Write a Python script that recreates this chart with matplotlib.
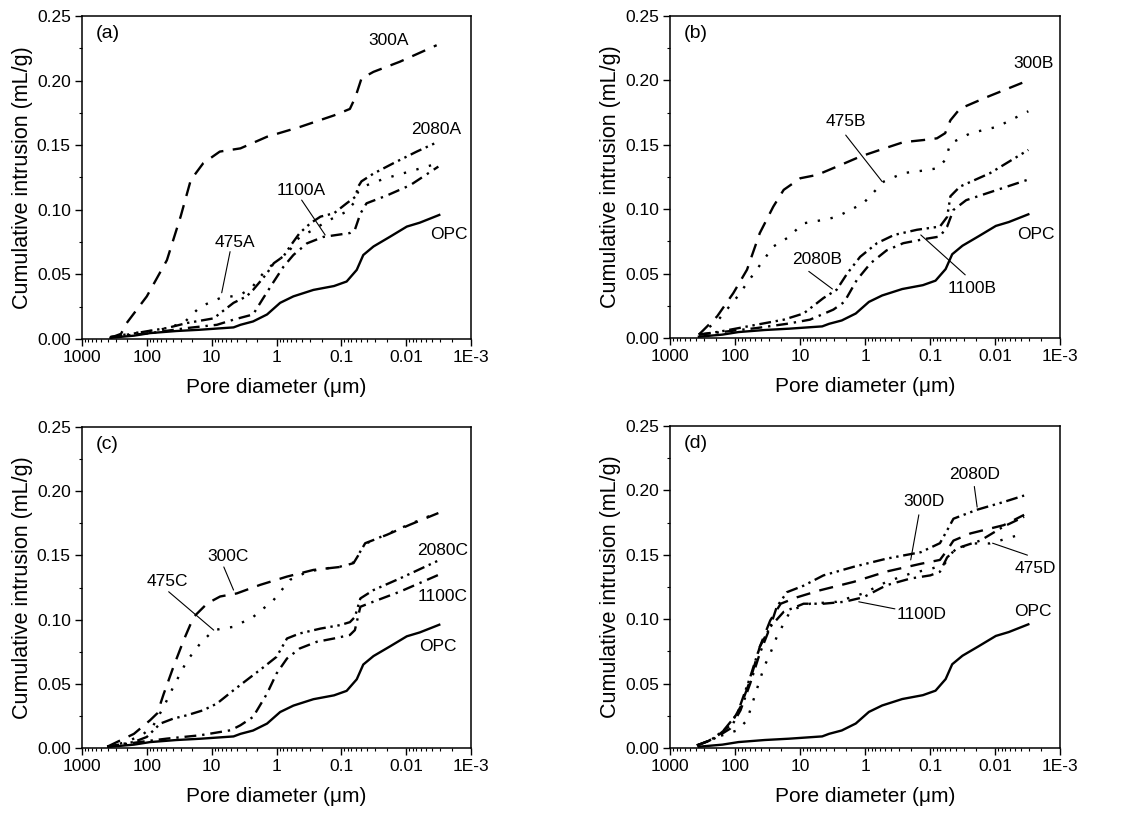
import numpy as np
import matplotlib
matplotlib.use("Agg")
import matplotlib.pyplot as plt
from matplotlib.ticker import FixedLocator, LogLocator, NullFormatter, MultipleLocator, FormatStrFormatter

plt.rcParams['font.family'] = ['Liberation Sans', 'DejaVu Sans']

# pore diameter (um) / cumulative intrusion (mL/g)
OPC_d = [363, 158, 89, 35, 15, 4.6, 3.6, 2.3, 1.4, 0.88, 0.55, 0.27, 0.13, 0.083, 0.058, 0.046, 0.032, 0.018, 0.0098, 0.0062, 0.0031]
OPC_v = [0.001, 0.0026, 0.0046, 0.0062, 0.0072, 0.009, 0.011, 0.0136, 0.019, 0.028, 0.033, 0.038, 0.041, 0.0445, 0.0535, 0.065, 0.0716, 0.079, 0.087, 0.090, 0.096]

# panel (a)
A300_d = [363, 250, 204, 100, 49, 30, 21, 13.5, 7.5, 3.6, 1.4, 0.44, 0.13, 0.074, 0.061, 0.049, 0.032, 0.0126, 0.0034]
A300_v = [0.001, 0.004, 0.0124, 0.033, 0.061, 0.095, 0.123, 0.136, 0.145, 0.1475, 0.1565, 0.164, 0.173, 0.178, 0.187, 0.2016, 0.2067, 0.2145, 0.2273]
A475_d = [363, 158, 62, 27, 15, 7.4, 3.6, 2.3, 1.6, 1.1, 0.69, 0.44, 0.27, 0.17, 0.12, 0.083, 0.065, 0.055, 0.046, 0.022, 0.0098, 0.0032]
A475_v = [0.0015, 0.0046, 0.0072, 0.0124, 0.025, 0.0317, 0.034, 0.041, 0.051, 0.0587, 0.066, 0.079, 0.0845, 0.091, 0.0947, 0.0986, 0.105, 0.114, 0.118, 0.124, 0.129, 0.136]
A1100_d = [363, 89, 24, 8.3, 4.6, 2.3, 1.6, 1.1, 0.78, 0.55, 0.34, 0.19, 0.074, 0.062, 0.051, 0.041, 0.020, 0.0087, 0.0032]
A1100_v = [0.0015, 0.0046, 0.0085, 0.011, 0.015, 0.019, 0.0317, 0.0445, 0.056, 0.065, 0.074, 0.079, 0.082, 0.0845, 0.097, 0.105, 0.111, 0.119, 0.1334]
A2080_d = [363, 204, 100, 49, 24, 9.3, 7.4, 4.6, 2.9, 2.3, 1.7, 1.4, 1.1, 0.78, 0.62, 0.44, 0.30, 0.21, 0.13, 0.083, 0.061, 0.055, 0.049, 0.032, 0.0158, 0.0069, 0.0032]
A2080_v = [0.0015, 0.0033, 0.006, 0.0085, 0.0124, 0.016, 0.020, 0.028, 0.033, 0.038, 0.0458, 0.051, 0.0587, 0.064, 0.0716, 0.082, 0.0896, 0.0947, 0.0973, 0.105, 0.110, 0.118, 0.122, 0.128, 0.136, 0.145, 0.1527]

# panel (b)
B300_d = [363, 190, 107, 66, 42, 26, 18, 10, 5.5, 2.75, 1.2, 0.52, 0.26, 0.126, 0.079, 0.059, 0.049, 0.035, 0.0135, 0.0031]
B300_v = [0.0026, 0.0168, 0.0349, 0.053, 0.0814, 0.102, 0.115, 0.124, 0.1266, 0.133, 0.1408, 0.147, 0.152, 0.1537, 0.155, 0.159, 0.169, 0.178, 0.187, 0.200]
B475_d = [363, 190, 93, 47, 26, 16, 8.9, 4.4, 2.75, 1.07, 0.52, 0.26, 0.126, 0.079, 0.059, 0.049, 0.024, 0.0093, 0.0031]
B475_v = [0.0026, 0.0129, 0.032, 0.053, 0.071, 0.0775, 0.089, 0.0917, 0.094, 0.1046, 0.1214, 0.128, 0.130, 0.1317, 0.138, 0.151, 0.159, 0.164, 0.176]
B1100_d = [363, 170, 47, 16, 7.1, 3.1, 2.1, 1.35, 0.83, 0.47, 0.26, 0.126, 0.071, 0.055, 0.044, 0.028, 0.0093, 0.0031]
B1100_v = [0.0026, 0.0045, 0.0077, 0.011, 0.0142, 0.022, 0.028, 0.045, 0.058, 0.068, 0.0736, 0.0767, 0.0788, 0.0865, 0.0994, 0.107, 0.115, 0.123]
B2080_d = [363, 170, 47, 18, 8.9, 4.4, 2.75, 1.9, 1.2, 0.66, 0.36, 0.16, 0.071, 0.055, 0.049, 0.035, 0.012, 0.0031]
B2080_v = [0.0026, 0.005, 0.0103, 0.0142, 0.019, 0.031, 0.0375, 0.050, 0.063, 0.0736, 0.080, 0.084, 0.0865, 0.094, 0.110, 0.1175, 0.128, 0.146]

# panel (c)
C300_d = [407, 158, 89, 69, 55, 39, 27, 19, 11.7, 7.4, 4.1, 1.8, 0.69, 0.27, 0.105, 0.065, 0.055, 0.043, 0.020, 0.0087, 0.0032]
C300_v = [0.001, 0.011, 0.0216, 0.027, 0.042, 0.063, 0.084, 0.102, 0.1126, 0.118, 0.1204, 0.127, 0.1335, 0.1387, 0.141, 0.144, 0.150, 0.1595, 0.166, 0.174, 0.183]
C475_d = [407, 204, 112, 79, 55, 39, 24, 15, 9.3, 4.6, 2.3, 1.12, 0.62, 0.34, 0.20, 0.105, 0.065, 0.055, 0.043, 0.020, 0.0087, 0.0032]
C475_v = [0.001, 0.0047, 0.011, 0.0177, 0.032, 0.0476, 0.068, 0.0814, 0.0918, 0.0944, 0.102, 0.115, 0.131, 0.137, 0.1395, 0.1412, 0.1445, 0.1505, 0.159, 0.1665, 0.1745, 0.1835]
C1100_d = [407, 127, 49, 15, 5.1, 3.6, 2.3, 1.4, 1.0, 0.69, 0.44, 0.24, 0.13, 0.074, 0.062, 0.051, 0.032, 0.0126, 0.0032]
C1100_v = [0.001, 0.0047, 0.0073, 0.0099, 0.0138, 0.0177, 0.0242, 0.0424, 0.058, 0.0697, 0.0775, 0.0827, 0.0853, 0.088, 0.0918, 0.110, 0.114, 0.1217, 0.1348]
C2080_d = [407, 158, 100, 62, 39, 24, 13.5, 8.3, 4.6, 2.9, 1.58, 1.0, 0.69, 0.44, 0.21, 0.105, 0.074, 0.062, 0.051, 0.032, 0.0126, 0.0032]
C2080_v = [0.001, 0.0047, 0.0086, 0.019, 0.0229, 0.0255, 0.0294, 0.0346, 0.045, 0.0528, 0.063, 0.071, 0.0853, 0.0892, 0.093, 0.0957, 0.098, 0.102, 0.1165, 0.123, 0.132, 0.146]

# panel (d)
D300_d = [389, 215, 120, 83, 59, 42, 29, 20, 11.2, 4.9, 1.5, 0.47, 0.14, 0.071, 0.055, 0.044, 0.024, 0.0074, 0.0036]
D300_v = [0.002, 0.007, 0.0176, 0.032, 0.0526, 0.0785, 0.099, 0.112, 0.117, 0.1225, 0.129, 0.137, 0.143, 0.146, 0.1536, 0.161, 0.1666, 0.173, 0.181]
D475_d = [389, 190, 93, 66, 47, 36, 29, 23, 14, 7.1, 2.75, 1.07, 0.47, 0.2, 0.1, 0.062, 0.044, 0.024, 0.012, 0.0036]
D475_v = [0.002, 0.0085, 0.0137, 0.0215, 0.045, 0.063, 0.0733, 0.0863, 0.107, 0.112, 0.1135, 0.12, 0.129, 0.1355, 0.139, 0.142, 0.153, 0.1588, 0.1588, 0.1666]
D1100_d = [389, 215, 120, 83, 59, 42, 29, 18, 8.9, 4.4, 2.1, 1.07, 0.47, 0.2, 0.1, 0.071, 0.055, 0.039, 0.017, 0.0074, 0.0036]
D1100_v = [0.002, 0.007, 0.015, 0.0293, 0.050, 0.0733, 0.094, 0.1057, 0.112, 0.112, 0.1135, 0.117, 0.1264, 0.1316, 0.134, 0.1368, 0.148, 0.155, 0.161, 0.172, 0.1795]
D2080_d = [389, 240, 151, 93, 59, 42, 29, 23, 16, 8.9, 4.4, 1.5, 0.47, 0.14, 0.071, 0.055, 0.044, 0.019, 0.0074, 0.0036]
D2080_v = [0.002, 0.006, 0.0137, 0.0267, 0.055, 0.0785, 0.094, 0.1096, 0.121, 0.126, 0.134, 0.1407, 0.147, 0.152, 0.159, 0.169, 0.178, 0.185, 0.191, 0.196]

x_ticks = [1000, 100, 10, 1, 0.1, 0.01, 0.001]
x_ticklabels = ['1000', '100', '10', '1', '0.1', '0.01', '1E-3']

# dash patterns for the series
styles = {
    '300': (0, (6, 4)),
    '475': (0, (1, 4.5)),
    '1100': (0, (5, 2.5, 1, 2.5)),
    '2080': (0, (5, 2, 1, 2, 1, 2)),
}

fs_tick = 12.5
fs_note = 12.5


def setup_axes(ax, tag):
    ax.set_xscale('log')
    ax.set_xlim(1000, 0.001)
    ax.set_ylim(0, 0.25)
    ax.xaxis.set_major_locator(FixedLocator(x_ticks))
    ax.set_xticklabels(x_ticklabels)
    ax.xaxis.set_minor_locator(LogLocator(base=10, subs=np.arange(2, 10), numticks=20))
    ax.xaxis.set_minor_formatter(NullFormatter())
    ax.yaxis.set_major_locator(MultipleLocator(0.05))
    ax.yaxis.set_minor_locator(MultipleLocator(0.025))
    ax.yaxis.set_major_formatter(FormatStrFormatter('%.2f'))
    ax.tick_params(which='major', direction='out', length=5, width=1, labelsize=fs_tick, pad=3)
    ax.tick_params(which='minor', direction='out', length=2.5, width=0.8)
    for s in ax.spines.values():
        s.set_linewidth(1.1)
    ax.set_xlabel('Pore diameter (\u03bcm)', fontsize=15, labelpad=9)
    ax.set_ylabel('Cumulative intrusion (mL/g)', fontsize=15.5, labelpad=3)
    ax.text(0.035, 0.945, tag, transform=ax.transAxes, ha='left', va='center', fontsize=14)


def draw(ax, curves):
    ax.plot(OPC_d, OPC_v, color='k', lw=1.7, ls='-')
    for key, d, v in curves:
        ax.plot(d, v, color='k', lw=1.7, ls=styles[key])


def note(ax, s, x, y, tip=None, start=None):
    ax.text(x, y, s, ha='center', va='center', fontsize=fs_note)
    if tip is not None:
        ax.annotate('', xy=tip, xytext=start,
                    arrowprops=dict(arrowstyle='-', lw=0.8, color='k', shrinkA=0, shrinkB=0))


fig = plt.figure(figsize=(11.38, 8.14), dpi=100)
ax_a = fig.add_axes([0.072, 0.5835, 0.342, 0.397])
ax_b = fig.add_axes([0.589, 0.5848, 0.3427, 0.3956])
ax_c = fig.add_axes([0.072, 0.0811, 0.342, 0.3943])
ax_d = fig.add_axes([0.589, 0.0811, 0.3427, 0.3956])

# (a)
setup_axes(ax_a, '(a)')
draw(ax_a, [('300', A300_d, A300_v), ('475', A475_d, A475_v),
            ('1100', A1100_d, A1100_v), ('2080', A2080_d, A2080_v)])
note(ax_a, '300A', 0.019, 0.231)
note(ax_a, '2080A', 0.0035, 0.162)
note(ax_a, '1100A', 0.41, 0.115, tip=(0.178, 0.0805), start=(0.41, 0.1075))
note(ax_a, '475A', 4.36, 0.0743, tip=(7.0, 0.0358), start=(5.2, 0.0676))
note(ax_a, 'OPC', 0.0022, 0.0805)

# (b)
setup_axes(ax_b, '(b)')
draw(ax_b, [('300', B300_d, B300_v), ('475', B475_d, B475_v),
            ('1100', B1100_d, B1100_v), ('2080', B2080_d, B2080_v)])
note(ax_b, '300B', 0.0026, 0.213)
note(ax_b, '475B', 2.0, 0.168, tip=(0.55, 0.1214), start=(2.0, 0.1575))
note(ax_b, '2080B', 5.5, 0.0607, tip=(3.2, 0.038), start=(7.4, 0.0517))
note(ax_b, '1100B', 0.023, 0.0387, tip=(0.14, 0.080), start=(0.029, 0.049))
note(ax_b, 'OPC', 0.0024, 0.080)

# (c)
setup_axes(ax_c, '(c)')
draw(ax_c, [('300', C300_d, C300_v), ('475', C475_d, C475_v),
            ('1100', C1100_d, C1100_v), ('2080', C2080_d, C2080_v)])
note(ax_c, '300C', 5.6, 0.149, tip=(4.6, 0.123), start=(6.5, 0.141))
note(ax_c, '475C', 49, 0.1295, tip=(9.3, 0.0918), start=(46, 0.1217))
note(ax_c, '2080C', 0.0028, 0.154)
note(ax_c, '1100C', 0.0028, 0.118)
note(ax_c, 'OPC', 0.0032, 0.0788)

# (d)
setup_axes(ax_d, '(d)')
draw(ax_d, [('300', D300_d, D300_v), ('475', D475_d, D475_v),
            ('1100', D1100_d, D1100_v), ('2080', D2080_d, D2080_v)])
note(ax_d, '2080D', 0.021, 0.212, tip=(0.019, 0.187), start=(0.021, 0.203))
note(ax_d, '300D', 0.126, 0.191, tip=(0.2, 0.146), start=(0.15, 0.181))
note(ax_d, '1100D', 0.135, 0.104, tip=(1.26, 0.1135), start=(0.35, 0.108))
note(ax_d, '475D', 0.0024, 0.139, tip=(0.011, 0.159), start=(0.0032, 0.1497))
note(ax_d, 'OPC', 0.0026, 0.1057)

fig.savefig('out.png', dpi=100)
